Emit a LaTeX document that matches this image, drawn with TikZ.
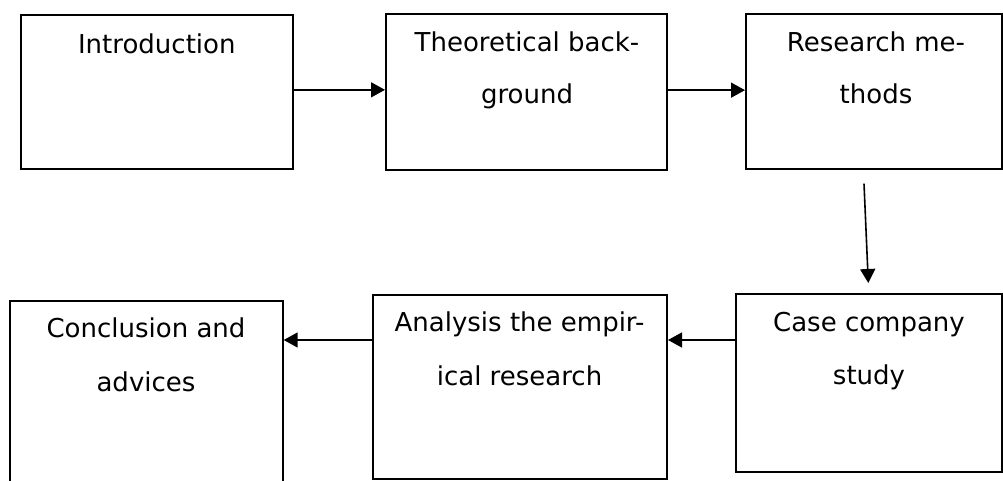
\documentclass[tikz,border=0pt]{standalone}
\usepackage{fontspec}
\setmainfont{DejaVu Sans}
\usetikzlibrary{arrows.meta}
\tikzset{
  box/.style={draw=black, line width=2pt, fill=none, inner sep=0pt},
  txt/.style={anchor=base, inner sep=0pt, font=\fontsize{26pt}{30pt}\selectfont},
  arr/.style={line width=1.6pt, -{Triangle[length=14pt, width=15pt]}}
}
\begin{document}
\begin{tikzpicture}[x=1pt, y=-1pt]
\clip (0,0) rectangle (1003,481);
\fill[white] (0,0) rectangle (1003,481);
% boxes
\node[box, minimum width=272.3pt, minimum height=154.3pt] (intro) at (156.85,91.85) {};
\node[box, minimum width=280.7pt, minimum height=155.7pt] (theo) at (526.35,92.15) {};
\node[box, minimum width=256pt, minimum height=155pt] (research) at (874,91.8) {};
\node[box, minimum width=272.7pt, minimum height=210pt] (concl) at (146.35,405.7) {};
\node[box, minimum width=294.3pt, minimum height=184.3pt] (anal) at (519.85,386.85) {};
\node[box, minimum width=266pt, minimum height=178pt] (case) at (869,383) {};
% texts
\node[txt] (introA) at (156.8,54) {Introduction};
\node[txt] (theoA) at (527,52) {Theoretical back-};
\node[txt] (theoB) at (527,104) {ground};
\node[txt] (resA) at (876,52) {Research me-};
\node[txt] (resB) at (876,104) {thods};
\node[txt] (conA) at (146,337) {Conclusion and};
\node[txt] (conB) at (146,391) {advices};
\node[txt] (anaA) at (519.5,331) {Analysis the empir-};
\node[txt] (anaB) at (519.5,385) {ical research};
\node[txt] (caseA) at (869,331) {Case company};
\node[txt] (caseB) at (869,384) {study};
% connectors
\draw[arr] ([yshift=2pt]intro.east) -- ([yshift=2pt]intro.east -| theo.west);
\draw[arr] ([yshift=2pt]theo.east) -- ([yshift=2pt]theo.east -| research.west);
\coordinate (dstart) at ([shift={(-10,13.4)}]research.south);
\coordinate (dend) at ([shift={(-0.7,-10)}]case.north);
\draw[arr] (dstart) -- (dend);
\draw[arr] ([yshift=43pt]case.west) -- ([yshift=43pt]case.west -| anal.east);
\draw[arr] ([yshift=46.85pt]anal.west) -- ([yshift=46.85pt]anal.west -| concl.east);
\end{tikzpicture}
\end{document}
